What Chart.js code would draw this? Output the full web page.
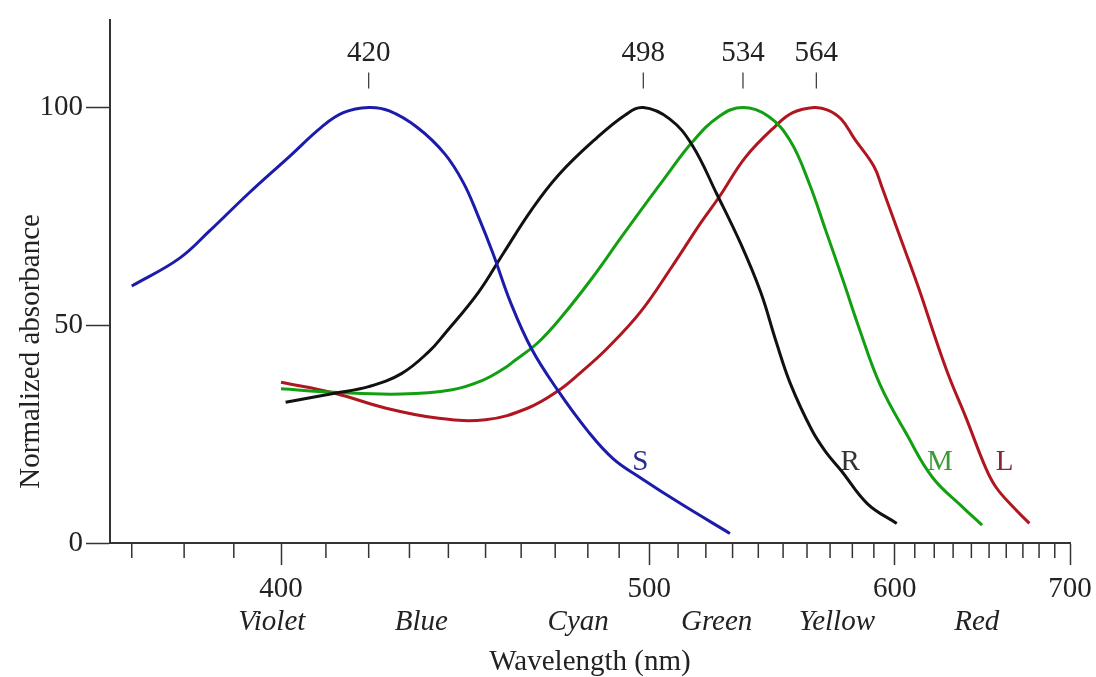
<!DOCTYPE html>
<html>
<head>
<meta charset="utf-8">
<script src="https://cdn.jsdelivr.net/npm/chart.js@4"></script>
<style>
  html, body { margin: 0; padding: 0; background: #fff; }
  #wrap { width: 1096px; height: 677px; position: relative; }
</style>
</head>
<body>
<div id="wrap"><canvas id="cones"></canvas></div>
<script>
// absorbance curves, wavelength in nm -> normalized absorbance
const S_NM = [370, 379, 385, 393, 402, 409, 414, 420, 425, 432, 439, 444, 448, 452, 457, 463, 471, 480, 488, 497, 511, 529];
const S_ABS = [59, 65.3, 71.6, 80.2, 88.9, 95.5, 98.8, 100, 99.2, 95.4, 89.4, 82.7, 75, 66.6, 55.2, 44.6, 34.8, 25.7, 19.4, 15.0, 9.0, 2.2];

const R_NM = [401, 412, 420, 428, 435, 439, 448, 455, 463, 471, 482, 492, 498, 507, 515, 524, 533, 541, 547, 553, 562, 568, 575, 587, 601];
const R_ABS = [32.3, 34.4, 35.9, 38.9, 44.0, 48.0, 57.5, 66.6, 76.5, 84.5, 92.5, 98.3, 100, 97.4, 91.4, 80.2, 68.9, 57.5, 46.5, 36.6, 26.0, 21.0, 16.6, 9.0, 4.5];

const M_NM = [400, 412, 428, 441, 449, 455, 458, 465, 472, 481, 491, 500, 505, 515, 525, 534, 544, 553, 561, 568, 576, 583, 593, 606, 619, 635, 646];
const M_ABS = [35.4, 34.6, 34.2, 35.2, 37.3, 40.0, 41.8, 46.1, 52, 60.5, 70.5, 79, 83.5, 92, 98, 100, 98, 92.3, 82.5, 71.9, 60, 49.5, 36.3, 24.9, 15.1, 8.3, 4.1];

const L_NM = [400, 412, 424, 437, 450, 462, 471, 478, 486, 497, 508, 518, 525, 535, 547, 554, 563, 569, 575, 581, 590, 594, 602, 612, 621, 628, 637, 648, 654, 664, 674];
const L_ABS = [36.9, 34.4, 31.0, 28.7, 28.3, 31.0, 35.0, 39.3, 44.6, 53, 63.6, 73.4, 79.5, 88.6, 95.8, 98.8, 100, 99.4, 97.3, 92.8, 86.5, 81.5, 71.1, 58.5, 46.5, 38, 28.8, 17.3, 12.8, 8.3, 4.5];

const PEAKS = [420, 498, 534, 564];
const CURVE_NAMES = ["S", "R", "M", "L"];

const X_TICKS = [370, 380, 390, 400, 410, 420, 430, 440, 450, 460, 470, 480, 490, 500, 510, 520, 530, 540, 550, 560, 570, 580, 590, 600, 610, 620, 630, 640, 650, 660, 670, 680, 690, 700];
const X_LABELS = [400, 500, 600, 700];
const Y_TICKS = [0, 50, 100];

const COLOR_NAMES = ["Violet", "Blue", "Cyan", "Green", "Yellow", "Red"];
const COLOR_NM = [398, 433, 477, 524, 573, 643];

const SERIF = "'Liberation Serif', 'Times New Roman', serif";
const LINE_COLORS = ["#1c1caa", "#111111", "#12a012", "#b0161f"];
const NAME_COLORS = ["#2b2b8f", "#333333", "#3a9a3a", "#8e2433"];
const NAME_AT = [[497, 18.4], [579, 18.4], [623, 18.4], [659, 18.4]];

// x axis is linear in wavenumber (1/lambda), labelled in nm
const Base = Chart.LinearScale || Chart.registry.getScale("linear");
class WavenumberScale extends Base {
  buildTicks() {
    return X_TICKS.map((v) => ({ value: v }));
  }
  getPixelForValue(value) {
    const a = 1 / this.min, b = 1 / this.max;
    return this.getPixelForDecimal((a - 1 / value) / (a - b));
  }
  getValueForPixel(pixel) {
    const a = 1 / this.min, b = 1 / this.max;
    return 1 / (a - this.getDecimalForPixel(pixel) * (a - b));
  }
}
WavenumberScale.id = "wavenumber";
WavenumberScale.defaults = Base.defaults;
Chart.register(WavenumberScale);

const zip = (xs, ys) => xs.map((x, i) => ({ x: x, y: ys[i] }));

const annotations = {
  id: "annotations",
  afterDraw(chart) {
    const { ctx } = chart;
    const x = chart.scales.x, y = chart.scales.y;
    ctx.save();

    // minor ticks on the wavelength axis
    ctx.strokeStyle = "#333";
    ctx.lineWidth = 1.5;
    X_TICKS.forEach((v) => {
      if (X_LABELS.includes(v)) return;
      const px = x.getPixelForValue(v);
      ctx.beginPath();
      ctx.moveTo(px, y.bottom);
      ctx.lineTo(px, y.bottom + 15);
      ctx.stroke();
    });

    // peak wavelengths
    const top = y.getPixelForValue(100);
    ctx.font = "29px " + SERIF;
    ctx.textAlign = "center";
    ctx.textBaseline = "middle";
    ctx.fillStyle = "#222";
    ctx.lineWidth = 1.2;
    PEAKS.forEach((p) => {
      const px = x.getPixelForValue(p);
      ctx.beginPath();
      ctx.moveTo(px, top - 35);
      ctx.lineTo(px, top - 19);
      ctx.stroke();
      ctx.fillText(String(p), px, top - 54);
    });

    // curve names
    CURVE_NAMES.forEach((n, i) => {
      ctx.fillStyle = NAME_COLORS[i];
      ctx.fillText(n, x.getPixelForValue(NAME_AT[i][0]), y.getPixelForValue(NAME_AT[i][1]));
    });

    // colour bands under the axis
    ctx.font = "italic 29px " + SERIF;
    ctx.fillStyle = "#222";
    COLOR_NAMES.forEach((n, i) => {
      ctx.fillText(n, x.getPixelForValue(COLOR_NM[i]), y.bottom + 79);
    });

    // y axis title, sits lower than the axis centre
    ctx.font = "29px " + SERIF;
    ctx.translate(31, y.getPixelForValue(44));
    ctx.rotate(-Math.PI / 2);
    ctx.fillText("Normalized absorbance", 0, 0);

    ctx.restore();
  },
};

Chart.defaults.font.family = SERIF;
Chart.defaults.color = "#222";

new Chart(document.getElementById("cones"), {
  type: "line",
  data: {
    datasets: [
      { label: "S", data: zip(S_NM, S_ABS), borderColor: LINE_COLORS[0] },
      { label: "R", data: zip(R_NM, R_ABS), borderColor: LINE_COLORS[1] },
      { label: "M", data: zip(M_NM, M_ABS), borderColor: LINE_COLORS[2] },
      { label: "L", data: zip(L_NM, L_ABS), borderColor: LINE_COLORS[3] },
    ],
  },
  options: {
    responsive: true,
    maintainAspectRatio: false,
    animation: false,
    layout: { padding: { top: 15, right: 26, left: 0, bottom: 0 } },
    elements: {
      point: { radius: 0 },
      line: { borderWidth: 3, fill: false, tension: 0.4 },
    },
    plugins: {
      legend: { display: false },
      tooltip: { enabled: false },
    },
    scales: {
      x: {
        type: "wavenumber",
        min: 366,
        max: 700,
        afterFit: (s) => {
          s.height = 134;
          s.paddingLeft = 0;
          s.paddingRight = 0;
        },
        border: { color: "#333", width: 2 },
        grid: {
          drawOnChartArea: false,
          tickLength: 22,
          tickWidth: 1.5,
          tickColor: (c) => (c.tick && X_LABELS.includes(c.tick.value) ? "#333" : "rgba(0,0,0,0)"),
        },
        ticks: {
          autoSkip: false,
          maxRotation: 0,
          padding: 7,
          font: { size: 29 },
          callback: (v) => (X_LABELS.includes(v) ? String(v) : ""),
        },
        title: {
          display: true,
          text: "Wavelength (nm)",
          padding: { top: 0, bottom: 0 },
          font: { size: 29, lineHeight: 1 },
        },
      },
      y: {
        min: 0,
        max: 120,
        afterBuildTicks: (s) => { s.ticks = Y_TICKS.map((v) => ({ value: v })); },
        afterFit: (s) => { s.width = 110; },
        border: { color: "#333", width: 2 },
        grid: { drawOnChartArea: false, tickLength: 24, tickWidth: 1.5, tickColor: "#333" },
        ticks: { padding: 3, font: { size: 29 } },
      },
    },
  },
  plugins: [annotations],
});
</script>
</body>
</html>
